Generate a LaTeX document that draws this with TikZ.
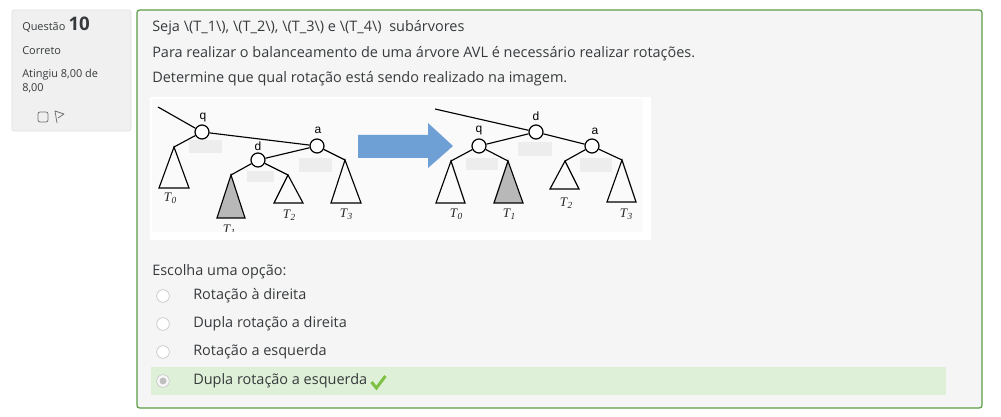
\documentclass[tikz,border=0pt]{standalone}
\usepackage{fontspec}
\setmainfont{Open Sans}
\newfontfamily\treefont{Liberation Sans}
\newfontfamily\subfont{Liberation Serif}
\usetikzlibrary{positioning,arrows.meta}
\definecolor{txt}{HTML}{373A3C}
\definecolor{okgreen}{HTML}{5A9E45}
\definecolor{okfill}{HTML}{DFF0D8}
\definecolor{tick}{HTML}{7DC142}
\definecolor{arrowblue}{HTML}{6E9FD5}
\newcommand\subtree[1]{{\subfont\itshape T\kern0.3pt\raisebox{-0.35ex}{\scriptsize #1}}}

\begin{document}
\begin{tikzpicture}[x=0.75pt,y=-0.75pt,
    every node/.style={inner sep=0pt,text=txt},
    body/.style={anchor=west,font=\fontsize{10.85}{12}\selectfont},
    small/.style={anchor=west,font=\fontsize{8.2}{10}\selectfont},
    vertex/.style={circle,draw,fill=white,line width=0.9pt,minimum size=10.5pt},
    vlabel/.style={font=\treefont\fontsize{9}{10}\selectfont,text=black},
    tlabel/.style={font=\fontsize{9.8}{10}\selectfont,text=black!85},
    edge/.style={line width=0.85pt},
    shade/.style={fill=black!7},
    radio/.style={circle,draw=black!22,fill=white,line width=0.5pt,minimum size=9.5pt}]
  \useasboundingbox (0,0) rectangle (1001,417);
  \fill[white] (0,0) rectangle (1001,417);

  % info box on the left
  \draw[black!12,fill=black!6,rounded corners=1.5pt] (12,10) rectangle (131,131);
  \node[small] (qlab) at (22,27) {Questão};
  \node[anchor=base west,font=\bfseries\fontsize{14}{16}\selectfont] at ([xshift=2pt]qlab.base east) {10};
  \node[small] (state) at (22,51) {Correto};
  \node[small,align=left] (grade) at (22,81) {Atingiu 8,00 de\\8,00};
  \draw[black!55,line width=0.6pt,rounded corners=1.5pt] (38,112) rectangle (48,122);
  \draw[black!55,line width=0.6pt,line join=round] (57,123) -- (55,111) -- (64,114) -- (58,118);

  % question box
  \draw[okgreen,line width=0.9pt,fill=black!4,rounded corners=2pt] (137,10) rectangle (982,408);
  \node[body] (l1) at (152,28) {Seja \textbackslash(T\_1\textbackslash), \textbackslash(T\_2\textbackslash), \textbackslash(T\_3\textbackslash) e \textbackslash(T\_4\textbackslash)\ \ subárvores};
  \node[body] (l2) at (152,54) {Para realizar o balanceamento de uma árvore AVL é necessário realizar rotações.};
  \node[body] (l3) at (152,79) {Determine que qual rotação está sendo realizado na imagem.};

  % the picture
  \fill[white] (150,97) rectangle (651,240);
  \fill[black!2] (152,99) rectangle (643,232);
  \begin{scope}
    \clip (152,99) rectangle (643,232);
    % left tree, before the rotation
    \fill[shade] (189,140) rectangle (222,153);
    \fill[shade] (299,158) rectangle (332,172);
    \fill[shade] (247,171) rectangle (274,182);
    \coordinate (lin) at (158,107);
    \node[vertex] (lq) at (202,132) {};
    \node[vertex] (la) at (317,146) {};
    \node[vertex] (ld) at (258,160) {};
    \node[vlabel] at (203,118) {q};
    \node[vlabel] at (318,130) {a};
    \node[vlabel] at (258,146) {d};
    \coordinate (l0) at (174,147);
    \coordinate (l1) at (231,175);
    \coordinate (l2) at (288,175);
    \coordinate (l3) at (345,160);
    \draw[edge] (lin) -- (lq) (lq) -- (la) (ld) -- (la);
    \draw[edge] (lq) -- (l0) (ld) -- (l1) (ld) -- (l2) (la) -- (l3);
    \draw[edge,line join=miter] (l0) -- ++(-15,41) -- ++(30,0) -- cycle;
    \draw[edge,fill=black!28] (l1) -- ++(-14,43) -- ++(28,0) -- cycle;
    \draw[edge] (l2) -- ++(-14,28) -- ++(29,0) -- cycle;
    \draw[edge] (l3) -- ++(-14,43) -- ++(30,0) -- cycle;
    \node[tlabel] at (170,198) {\subtree{0}};
    \node[tlabel] at (229,230) {\subtree{1}};
    \node[tlabel] at (289,215) {\subtree{2}};
    \node[tlabel] at (346,214) {\subtree{3}};

    % arrow
    \fill[arrowblue] (358,135) -- (428,135) -- (428,123) -- (453,146) -- (428,168) -- (428,158) -- (358,158) -- cycle;

    % right tree, after the rotation
    \fill[shade] (518,142) rectangle (552,156);
    \fill[shade] (466,158) rectangle (498,170);
    \fill[shade] (580,158) rectangle (612,172);
    \coordinate (rin) at (435,109);
    \node[vertex] (rd) at (536,132) {};
    \node[vertex] (rq) at (479,146) {};
    \node[vertex] (ra) at (592,146) {};
    \node[vlabel] at (536,116) {d};
    \node[vlabel] at (479,131) {q};
    \node[vlabel] at (595,131) {a};
    \coordinate (r0) at (451,161);
    \coordinate (r1) at (508,161);
    \coordinate (r2) at (565,161);
    \coordinate (r3) at (622,160);
    \draw[edge] (rin) -- (rd) (rd) -- (rq) (rd) -- (ra);
    \draw[edge] (rq) -- (r0) (rq) -- (r1) (ra) -- (r2) (ra) -- (r3);
    \draw[edge] (r0) -- ++(-15,42) -- ++(29,0) -- cycle;
    \draw[edge,fill=black!28] (r1) -- ++(-14,42) -- ++(29,0) -- cycle;
    \draw[edge] (r2) -- ++(-15,28) -- ++(29,0) -- cycle;
    \draw[edge] (r3) -- ++(-15,42) -- ++(29,0) -- cycle;
    \node[tlabel] at (456,214) {\subtree{0}};
    \node[tlabel] at (509,214) {\subtree{1}};
    \node[tlabel] at (566,203) {\subtree{2}};
    \node[tlabel] at (626,214) {\subtree{3}};
  \end{scope}

  % answers
  \node[body] (ask) at (152,272) {Escolha uma opção:};
  \fill[okfill] (151,367) rectangle (946,395);
  \node[radio] (ra1) at (163,296) {};
  \node[radio] (ra2) at (163,324) {};
  \node[radio] (ra3) at (163,352) {};
  \node[radio,fill=black!3] (ra4) at (163,381) {};
  \fill[black!25] (ra4) circle (3.5);
  \node[body] (o1) at (193,296) {Rotação à direita};
  \node[body] (o2) at (193,324) {Dupla rotação a direita};
  \node[body] (o3) at (193,352) {Rotação a esquerda};
  \node[body] (o4) at (193,381) {Dupla rotação a esquerda};
  \draw[tick,line width=2.2pt] ([xshift=3]o4.east) ++(0,1) -- ++(5,6) -- ++(9,-12);
\end{tikzpicture}
\end{document}
